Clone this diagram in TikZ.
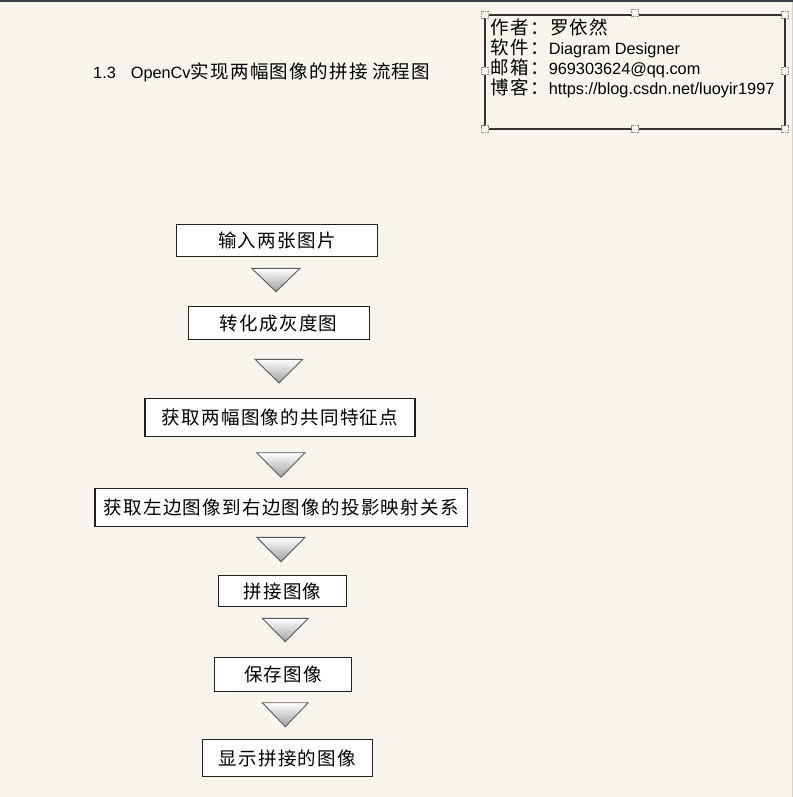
\documentclass[tikz,border=0pt]{standalone}
\usepackage{fontspec}
\setmainfont{Liberation Sans}
\newfontfamily\cjk[LetterSpace=7]{Noto Sans CJK SC}
\definecolor{bgcol}{HTML}{F8F5EF}
\definecolor{topline}{HTML}{3A3F4A}
\definecolor{edgecol}{HTML}{D4D2CC}
\definecolor{boxline}{HTML}{202020}
\definecolor{triline}{HTML}{5A5A5A}
\definecolor{handle}{HTML}{8A8A8A}
\tikzset{
  flowbox/.style={draw=boxline, line width=1.1bp, fill=white, inner sep=0pt,
    font=\fontsize{18.5bp}{21bp}\selectfont\cjk},
  flowtri/.style={draw=triline, line width=0.9bp, top color=white, bottom color=black!38},
  infotext/.style={anchor=base west, inner sep=0pt, font=\fontsize{16.3bp}{19bp}\selectfont},
  handlebox/.style={draw=handle, densely dotted, line width=0.7bp, fill=bgcol, minimum size=7bp, inner sep=0pt},
}
\newcommand{\cj}[1]{{\fontsize{18.5bp}{21bp}\selectfont\cjk #1}}
\begin{document}
\begin{tikzpicture}[x=1bp,y=-1bp]
\fill[bgcol] (0,0) rectangle (793,797);
\useasboundingbox (0,0) rectangle (793,797);
\draw[topline, line width=1.6bp] (0,0.8) -- (793,0.8);
\draw[edgecol, line width=1bp] (792.3,1.6) -- (792.3,797);

% title
\node[infotext] (title) at (93,79) {1.3\hspace{15bp}OpenCv\cj{实现两幅图像的拼接} \cj{流程图}};

% info box
\draw[black!80, line width=1.6bp] (485,15) rectangle (785,129);
\foreach \hx/\hy [count=\i] in {485/15,635/13,785/15,485/71,785/71,485/129,635/129,785/129}
  \node[handlebox] (h\i) at (\hx,\hy) {};
\node[infotext] (author) at (490.5,34.5) {\cj{作者：罗依然}};
\node[infotext] (soft) at (490.5,55) {\cj{软件：}Diagram Designer};
\node[infotext] (mail) at (490.5,75) {\cj{邮箱：}969303624@qq.com};
\node[infotext] (blog) at (490.5,94.5) {\cj{博客：}https://blog.csdn.net/luoyir1997};

% flow boxes
\node[flowbox, minimum width=201.5bp, minimum height=32.5bp] (b1) at (276.8,240.3) {输入两张图片};
\node[flowbox, minimum width=180.7bp, minimum height=32.6bp] (b2) at (278.7,323) {转化成灰度图};
\node[flowbox, minimum width=270bp, minimum height=38.4bp] (b3) at (280,417.5) {获取两幅图像的共同特征点};
\node[flowbox, minimum width=372.3bp, minimum height=38.4bp] (b4) at (281.2,507.5) {获取左边图像到右边图像的投影映射关系};
\node[flowbox, minimum width=128.4bp, minimum height=31bp] (b5) at (282.5,591.2) {拼接图像};
\node[flowbox, minimum width=137.4bp, minimum height=34bp] (b6) at (283,674.7) {保存图像};
\node[flowbox, minimum width=170bp, minimum height=37.4bp] (b7) at (287.3,758) {显示拼接的图像};

% triangles (downward arrows)
\shadedraw[flowtri] (251.7,268.3) -- (300,268.3) -- (276,291.7) -- cycle;
\shadedraw[flowtri] (255,359.3) -- (302.7,359.3) -- (279,383) -- cycle;
\shadedraw[flowtri] (256.7,452.7) -- (305,452.7) -- (281,477.3) -- cycle;
\shadedraw[flowtri] (256.7,537.3) -- (305,537.3) -- (281,561.7) -- cycle;
\shadedraw[flowtri] (262.3,618.3) -- (308.3,618.3) -- (285.3,641.7) -- cycle;
\shadedraw[flowtri] (262.3,702.7) -- (308.3,702.7) -- (285.3,726.7) -- cycle;
\end{tikzpicture}
\end{document}
